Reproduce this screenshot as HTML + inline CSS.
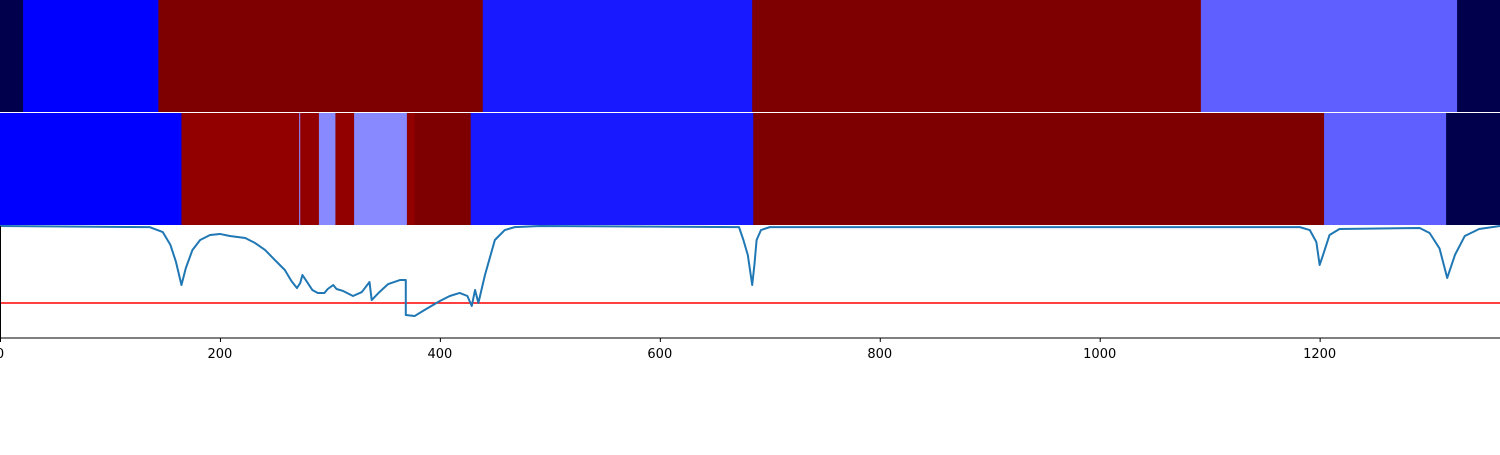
<!DOCTYPE html>
<html><head><meta charset="utf-8"><style>
body{margin:0;background:#fff;width:1500px;height:450px;overflow:hidden}
svg text{font-family:"DejaVu Sans","Liberation Sans",sans-serif;font-size:13px}
</style></head><body>
<svg id="chart" width="1500" height="450"></svg>
<script>
const row1Edges=[0,21,144,439,684,1092,1325,1364];
const row1Colors=["#00004c","#0000ff","#7f0000","#1919ff","#7f0000","#5f5fff","#00004c"];
const row2Edges=[0,165,272,273,290,305,322,370,377,428,685,1204,1315,1364];
const row2Colors=["#0000ff","#920000","#8888ff","#920000","#8888ff","#920000","#8888ff","#920000","#7f0000","#1919ff","#7f0000","#5f5fff","#00004c"];
const lineX=[0,136,148,155,160,165,169,175,182,191,200,209,223,232,241,250,259,265,270,273,275,278,284,289,295,298,303,306,312,321,329,336,338,345,353,364,369,369,377,386,400,409,418,425,429,432,435,441,450,459,468,491,672,676,680,684,686,688,692,700,720,1182,1191,1197,1200,1204,1209,1218,1291,1300,1309,1316,1323,1332,1345,1364];
const lineY=[1,.99,.946,.83,.68,.473,.625,.786,.875,.92,.929,.911,.893,.848,.786,.696,.607,.509,.446,.491,.5625,.518,.429,.402,.402,.4375,.473,.4375,.42,.375,.41,.5,.339,.41,.482,.518,.518,.205,.196,.25,.33,.375,.402,.375,.286,.429,.3125,.5625,.875,.964,.99,1,.99,.875,.741,.473,.652,.875,.964,.99,.99,.99,.964,.857,.652,.768,.92,.973,.982,.9375,.80,.536,.741,.911,.973,1];
const threshold=0.3125;
const xTicks=[0,200,400,600,800,1000,1200];
const NS="http://www.w3.org/2000/svg";
const svg=document.getElementById('chart');
const sx=v=>v*1500/1364;
function mk(t,a){const e=document.createElementNS(NS,t);for(const k in a)e.setAttribute(k,a[k]);svg.appendChild(e);return e;}
function drawRow(edges,colors,y0,h,name){
 for(let i=0;i<colors.length;i++){
  const r=mk('rect',{x:sx(edges[i]),y:y0,width:sx(edges[i+1])-sx(edges[i])+0.5,height:h,fill:colors[i]});
  
  
 }
}
drawRow(row1Edges,row1Colors,0,112,'row1');
drawRow(row2Edges,row2Colors,113,112,'row2');
const sy=v=>338-v*112;
const th=mk('line',{x1:0,x2:1500,y1:sy(threshold),y2:sy(threshold),stroke:'#ff0000','stroke-width':1.5});


const p=mk('polyline',{points:lineX.map((x,i)=>sx(x)+','+sy(lineY[i])).join(' '),fill:'none',stroke:'#1f77b4','stroke-width':2,'stroke-linejoin':'round'});


const ax=mk('line',{x1:0,x2:1500,y1:338,y2:338,stroke:'#000','stroke-width':1});


const ly=mk('line',{x1:0.5,x2:0.5,y1:226,y2:338,stroke:'#000','stroke-width':1});


xTicks.forEach(t=>{
 const l=mk('line',{x1:sx(t)+0.5,x2:sx(t)+0.5,y1:338,y2:342,stroke:'#000'});
 
 
 const tx=mk('text',{x:sx(t),y:358,'text-anchor':'middle',fill:'#000'});
 tx.textContent=t;
 
 
});
</script>
</body></html>
